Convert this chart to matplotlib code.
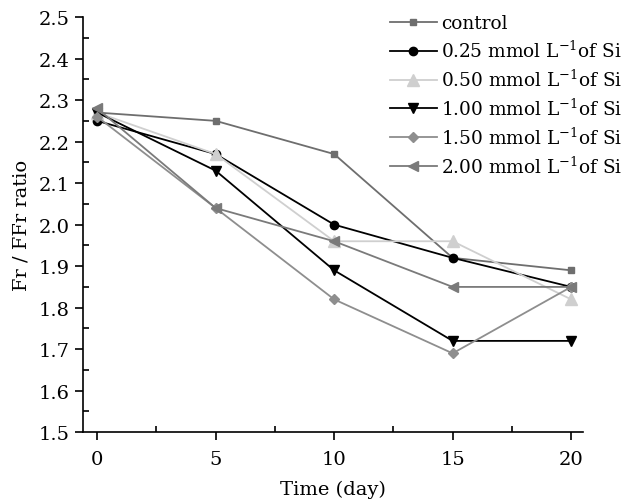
import matplotlib.pyplot as plt
from matplotlib.ticker import MultipleLocator

plt.rcParams["font.family"] = ["DejaVu Serif"]
plt.rcParams["mathtext.fontset"] = "dejavuserif"

DAYS = [0, 5, 10, 15, 20]

LABELS = [
    "control",
    "0.25 mmol L$^{-1}$of Si",
    "0.50 mmol L$^{-1}$of Si",
    "1.00 mmol L$^{-1}$of Si",
    "1.50 mmol L$^{-1}$of Si",
    "2.00 mmol L$^{-1}$of Si",
]

CONTROL = [2.27, 2.25, 2.17, 1.92, 1.89]
SI_025 = [2.25, 2.17, 2.00, 1.92, 1.85]
SI_050 = [2.27, 2.17, 1.96, 1.96, 1.82]
SI_100 = [2.27, 2.13, 1.89, 1.72, 1.72]
SI_150 = [2.26, 2.04, 1.82, 1.69, 1.85]
SI_200 = [2.28, 2.04, 1.96, 1.85, 1.85]

SERIES = [CONTROL, SI_025, SI_050, SI_100, SI_150, SI_200]
COLORS = ["#6e6e6e", "#000000", "#cfcfcf", "#000000", "#8e8e8e", "#7a7a7a"]
MARKERS = ["s", "o", "^", "v", "D", "<"]
SIZES = [5, 6, 8, 7, 5, 7]

fig = plt.figure(figsize=(6.33, 5.02), dpi=100)
ax = fig.add_axes([0.131, 0.137, 0.79, 0.827])

for vals, lab, c, m, s in zip(SERIES, LABELS, COLORS, MARKERS, SIZES):
    ax.plot(DAYS, vals, color=c, marker=m, markersize=s, linewidth=1.3, label=lab)

ax.set_xlim(-0.6, 20.5)
ax.set_ylim(1.5, 2.5)
ax.xaxis.set_major_locator(MultipleLocator(5))
ax.xaxis.set_minor_locator(MultipleLocator(2.5))
ax.yaxis.set_major_locator(MultipleLocator(0.1))
ax.yaxis.set_minor_locator(MultipleLocator(0.05))
ax.yaxis.set_major_formatter(lambda v, _: f"{v:.1f}")

ax.spines["top"].set_visible(False)
ax.spines["right"].set_visible(False)
ax.spines["left"].set_linewidth(1.2)
ax.spines["bottom"].set_linewidth(1.2)
ax.tick_params(which="major", direction="out", length=6, width=1.2, labelsize=14)
ax.tick_params(axis="x", which="major", pad=7)
ax.tick_params(which="minor", direction="in", length=4, width=1.2)

ax.set_xlabel("Time (day)", fontsize=14, labelpad=8)
ax.set_ylabel("Fr / FFr ratio", fontsize=14, labelpad=6)

ax.legend(loc="upper left", bbox_to_anchor=(0.60, 1.025), frameon=False,
          fontsize=13.3, handlelength=2.5, handletextpad=0.25, labelspacing=0.42,
          borderaxespad=0)

plt.savefig("out.png", dpi=100)
plt.close()
